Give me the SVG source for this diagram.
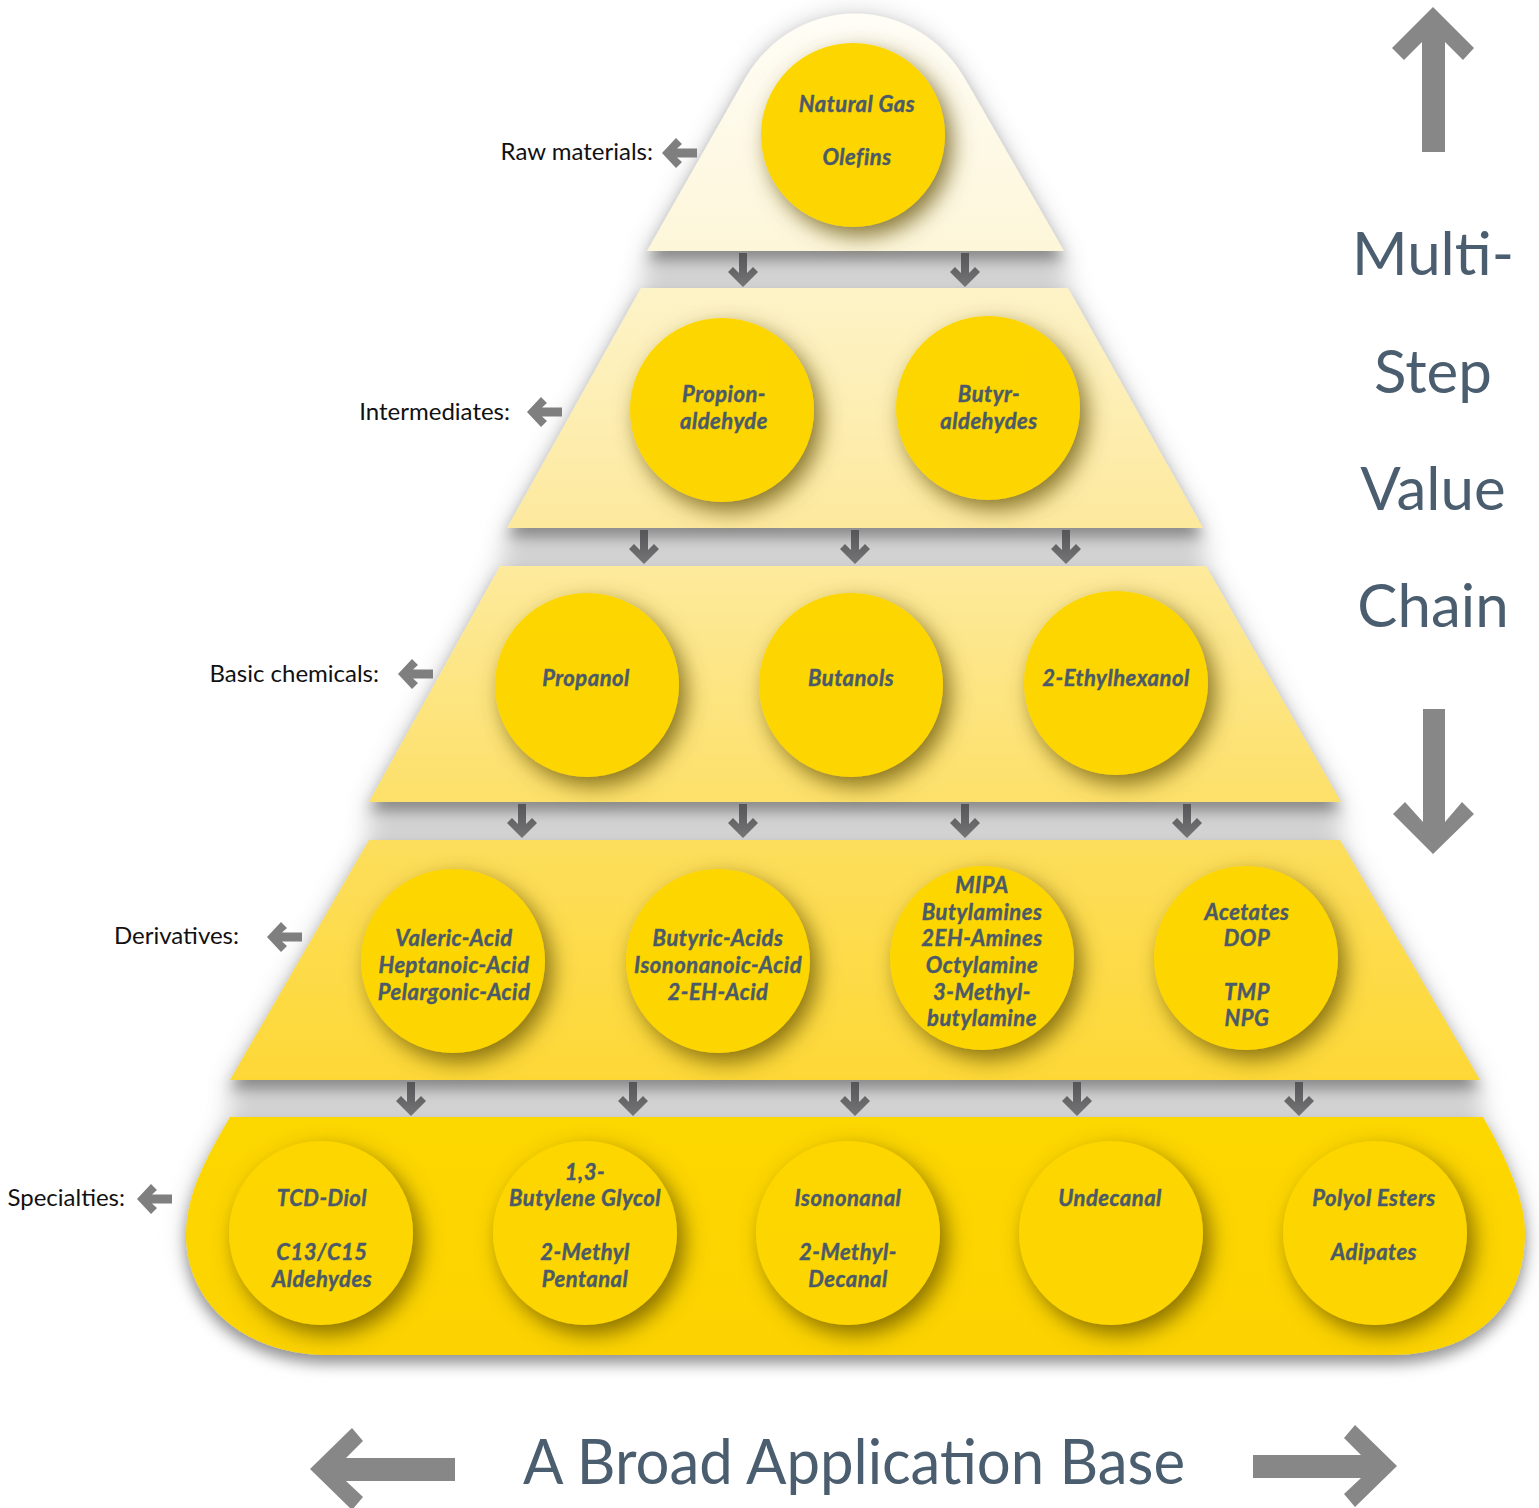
<svg xmlns="http://www.w3.org/2000/svg" width="1539" height="1508" viewBox="0 0 1539 1508">
<defs>
<style>
.lbl{font-family:Lato,"Liberation Sans",sans-serif;font-size:24px;fill:#111;text-anchor:end}
.ct{font-family:Lato,"Liberation Sans",sans-serif;font-size:22px;font-weight:bold;font-style:italic;fill:#4b5a68;text-anchor:middle;letter-spacing:0.5px;stroke:#4b5a68;stroke-width:0.4px}
.big{font-family:Lato,"Liberation Sans",sans-serif;font-size:60px;fill:#4b5e6f;text-anchor:middle}
.circ{fill:url(#gCirc);filter:url(#fCirc)}
.dn{fill:url(#gDn)}
.lt{fill:#7f7f80}
.bigarr{fill:#878788}
</style>
<linearGradient id="gCirc" x1="0" y1="0" x2="0" y2="1"><stop offset="0" stop-color="#fdd600"/><stop offset="1" stop-color="#fdd500"/></linearGradient>
<linearGradient id="gDn" x1="0" y1="0" x2="0" y2="1"><stop offset="0" stop-color="#555557"/><stop offset="1" stop-color="#757577"/></linearGradient>
<linearGradient id="g1" x1="0" y1="0" x2="0" y2="1"><stop offset="0" stop-color="#fffdf6"/><stop offset="1" stop-color="#fdf6d9"/></linearGradient>
<linearGradient id="g2" x1="0" y1="0" x2="0" y2="1"><stop offset="0" stop-color="#fdf3c8"/><stop offset="1" stop-color="#fde99d"/></linearGradient>
<linearGradient id="g3" x1="0" y1="0" x2="0" y2="1"><stop offset="0" stop-color="#fdea9c"/><stop offset="1" stop-color="#fde069"/></linearGradient>
<linearGradient id="g4" x1="0" y1="0" x2="0" y2="1"><stop offset="0" stop-color="#fdde5c"/><stop offset="1" stop-color="#fdd836"/></linearGradient>
<linearGradient id="g5" x1="0" y1="0" x2="0" y2="1"><stop offset="0" stop-color="#fdd700"/><stop offset="1" stop-color="#fcd300"/></linearGradient>
<filter id="fBg" x="-10%" y="-10%" width="120%" height="120%"><feGaussianBlur stdDeviation="12"/></filter>
<filter id="fLayer" x="-10%" y="-20%" width="120%" height="150%"><feDropShadow dx="0" dy="9" stdDeviation="7" flood-color="#000" flood-opacity="0.35"/></filter>
<filter id="fCirc" x="-30%" y="-30%" width="170%" height="170%"><feDropShadow dx="7" dy="9" stdDeviation="11" flood-color="#5e4d00" flood-opacity="0.75"/></filter>
<path id="dnArr" d="M-4,0 H4 V20 L10,14 L15,19 L0,34 L-15,19 L-10,14 L-4,20 Z"/>
<path id="ltArr" d="M0,0 L14,-15 L20,-9 L15,-4.5 H35 V4.5 H15 L20,9 L14,15 Z"/>
</defs>
<rect width="1539" height="1508" fill="#fff"/>

<path fill="#d2d2d2" filter="url(#fBg)" d="M742,84 C792,-10 918,-10 968,84 L1064,251 L1068,288 L1203,528 L1206,566 L1341,802 L1340,840 L1480,1080 L1483,1117 Q1525,1190 1525,1232 C1525,1310 1470,1355 1390,1355 L330,1355 C240,1355 186,1300 186,1235 C186,1195 205,1160 230,1117 L230,1080 L369,840 L369,802 L500,566 L507,528 L641,288 L647,251 Z"/>

<g id="layers">
<path id="layer-raw" fill="url(#g1)" filter="url(#fLayer)" d="M647,251 L742,84 C792,-10 918,-10 968,84 L1064,251 Z"/>
<path id="layer-intermediates" fill="url(#g2)" filter="url(#fLayer)" d="M641,288 L1068,288 L1203,528 L507,528 Z"/>
<path id="layer-basic" fill="url(#g3)" filter="url(#fLayer)" d="M500,566 L1206,566 L1341,802 L369,802 Z"/>
<path id="layer-derivatives" fill="url(#g4)" filter="url(#fLayer)" d="M369,840 L1340,840 L1480,1080 L230,1080 Z"/>
<path id="layer-specialties" fill="url(#g5)" filter="url(#fLayer)" d="M230,1117 L1483,1117 Q1525,1190 1525,1232 C1525,1310 1470,1355 1390,1355 L330,1355 C240,1355 186,1300 186,1235 C186,1195 205,1160 230,1117 Z"/>
</g>

<g id="connectors">
<use href="#dnArr" class="dn" x="743" y="253"/>
<use href="#dnArr" class="dn" x="965" y="253"/>
<use href="#dnArr" class="dn" x="644" y="530"/>
<use href="#dnArr" class="dn" x="855" y="530"/>
<use href="#dnArr" class="dn" x="1066" y="530"/>
<use href="#dnArr" class="dn" x="522" y="804"/>
<use href="#dnArr" class="dn" x="743" y="804"/>
<use href="#dnArr" class="dn" x="965" y="804"/>
<use href="#dnArr" class="dn" x="1187" y="804"/>
<use href="#dnArr" class="dn" x="411" y="1082"/>
<use href="#dnArr" class="dn" x="633" y="1082"/>
<use href="#dnArr" class="dn" x="855" y="1082"/>
<use href="#dnArr" class="dn" x="1077" y="1082"/>
<use href="#dnArr" class="dn" x="1299" y="1082"/>
<use href="#ltArr" class="lt" x="662" y="153"/>
<use href="#ltArr" class="lt" x="527" y="412"/>
<use href="#ltArr" class="lt" x="398" y="674"/>
<use href="#ltArr" class="lt" x="267" y="937"/>
<use href="#ltArr" class="lt" x="137" y="1199"/>
<polygon class="bigarr" points="1433,7 1474,48 1463,60 1445,42 1445,152 1422,152 1422,42 1404,60 1392,48"/>
<polygon class="bigarr" points="1423,709 1445,709 1445,822 1462,802 1474,814 1433,854 1393,814 1405,802 1423,822"/>
<polygon class="bigarr" points="310,1469 352,1428 363,1441 346,1458 455,1458 455,1481 346,1481 363,1497 352,1510"/>
<polygon class="bigarr" points="1397,1466 1355,1425 1344,1438 1361,1455 1253,1455 1253,1478 1361,1478 1344,1494 1355,1507"/>
</g>

<g id="labels">
<text class="lbl" x="653" y="160">Raw materials:</text>
<text class="lbl" x="510" y="420">Intermediates:</text>
<text class="lbl" x="379" y="682">Basic chemicals:</text>
<text class="lbl" x="239" y="944">Derivatives:</text>
<text class="lbl" x="125" y="1206">Specialties:</text>
</g>

<g id="title-right">
<text class="big" x="1433" y="275">Multi-</text>
<text class="big" x="1433" y="393">Step</text>
<text class="big" x="1433" y="510">Value</text>
<text class="big" x="1433" y="627">Chain</text>
</g>
<g id="title-bottom">
<text x="523" y="1484" font-family="Lato,'Liberation Sans',sans-serif" font-size="62" fill="#4b5e6f" textLength="662" lengthAdjust="spacingAndGlyphs">A Broad Application Base</text>
</g>

<g id="node-natural-gas"><circle class="circ" cx="853" cy="135" r="92"/>
<text class="ct" x="857" y="112">Natural Gas</text><text class="ct" x="857" y="165">Olefins</text></g>

<g id="node-propionaldehyde"><circle class="circ" cx="722" cy="410" r="92"/>
<text class="ct" x="724" y="402">Propion-</text><text class="ct" x="724" y="429">aldehyde</text></g>
<g id="node-butyraldehydes"><circle class="circ" cx="988" cy="408" r="92"/>
<text class="ct" x="989" y="402">Butyr-</text><text class="ct" x="989" y="429">aldehydes</text></g>

<g id="node-propanol"><circle class="circ" cx="587" cy="685" r="92"/>
<text class="ct" x="586" y="686">Propanol</text></g>
<g id="node-butanols"><circle class="circ" cx="851" cy="685" r="92"/>
<text class="ct" x="851" y="686">Butanols</text></g>
<g id="node-ethylhexanol"><circle class="circ" cx="1116" cy="683" r="92"/>
<text class="ct" x="1116" y="686">2-Ethylhexanol</text></g>

<g id="node-acids"><circle class="circ" cx="453" cy="961" r="92"/>
<text class="ct" x="454" y="946">Valeric-Acid</text><text class="ct" x="454" y="973">Heptanoic-Acid</text><text class="ct" x="454" y="1000">Pelargonic-Acid</text></g>
<g id="node-butyric"><circle class="circ" cx="718" cy="961" r="92"/>
<text class="ct" x="718" y="946">Butyric-Acids</text><text class="ct" x="718" y="973">Isononanoic-Acid</text><text class="ct" x="718" y="1000">2-EH-Acid</text></g>
<g id="node-amines"><circle class="circ" cx="982" cy="958" r="92"/>
<text class="ct" x="982" y="893">MIPA</text><text class="ct" x="982" y="920">Butylamines</text><text class="ct" x="982" y="946">2EH-Amines</text><text class="ct" x="982" y="973">Octylamine</text><text class="ct" x="982" y="1000">3-Methyl-</text><text class="ct" x="982" y="1026">butylamine</text></g>
<g id="node-acetates"><circle class="circ" cx="1246" cy="958" r="92"/>
<text class="ct" x="1247" y="920">Acetates</text><text class="ct" x="1247" y="946">DOP</text><text class="ct" x="1247" y="1000">TMP</text><text class="ct" x="1247" y="1026">NPG</text></g>

<g id="node-tcd"><circle class="circ" cx="321" cy="1233" r="92"/>
<text class="ct" x="322" y="1206">TCD-Diol</text><text class="ct" x="322" y="1260">C13/C15</text><text class="ct" x="322" y="1287">Aldehydes</text></g>
<g id="node-butylene"><circle class="circ" cx="585" cy="1233" r="92"/>
<text class="ct" x="585" y="1180">1,3-</text><text class="ct" x="585" y="1206">Butylene Glycol</text><text class="ct" x="585" y="1260">2-Methyl</text><text class="ct" x="585" y="1287">Pentanal</text></g>
<g id="node-isononanal"><circle class="circ" cx="848" cy="1233" r="92"/>
<text class="ct" x="848" y="1206">Isononanal</text><text class="ct" x="848" y="1260">2-Methyl-</text><text class="ct" x="848" y="1287">Decanal</text></g>
<g id="node-undecanal"><circle class="circ" cx="1111" cy="1233" r="92"/>
<text class="ct" x="1110" y="1206">Undecanal</text></g>
<g id="node-polyol"><circle class="circ" cx="1375" cy="1233" r="92"/>
<text class="ct" x="1374" y="1206">Polyol Esters</text><text class="ct" x="1374" y="1260">Adipates</text></g>
</svg>
